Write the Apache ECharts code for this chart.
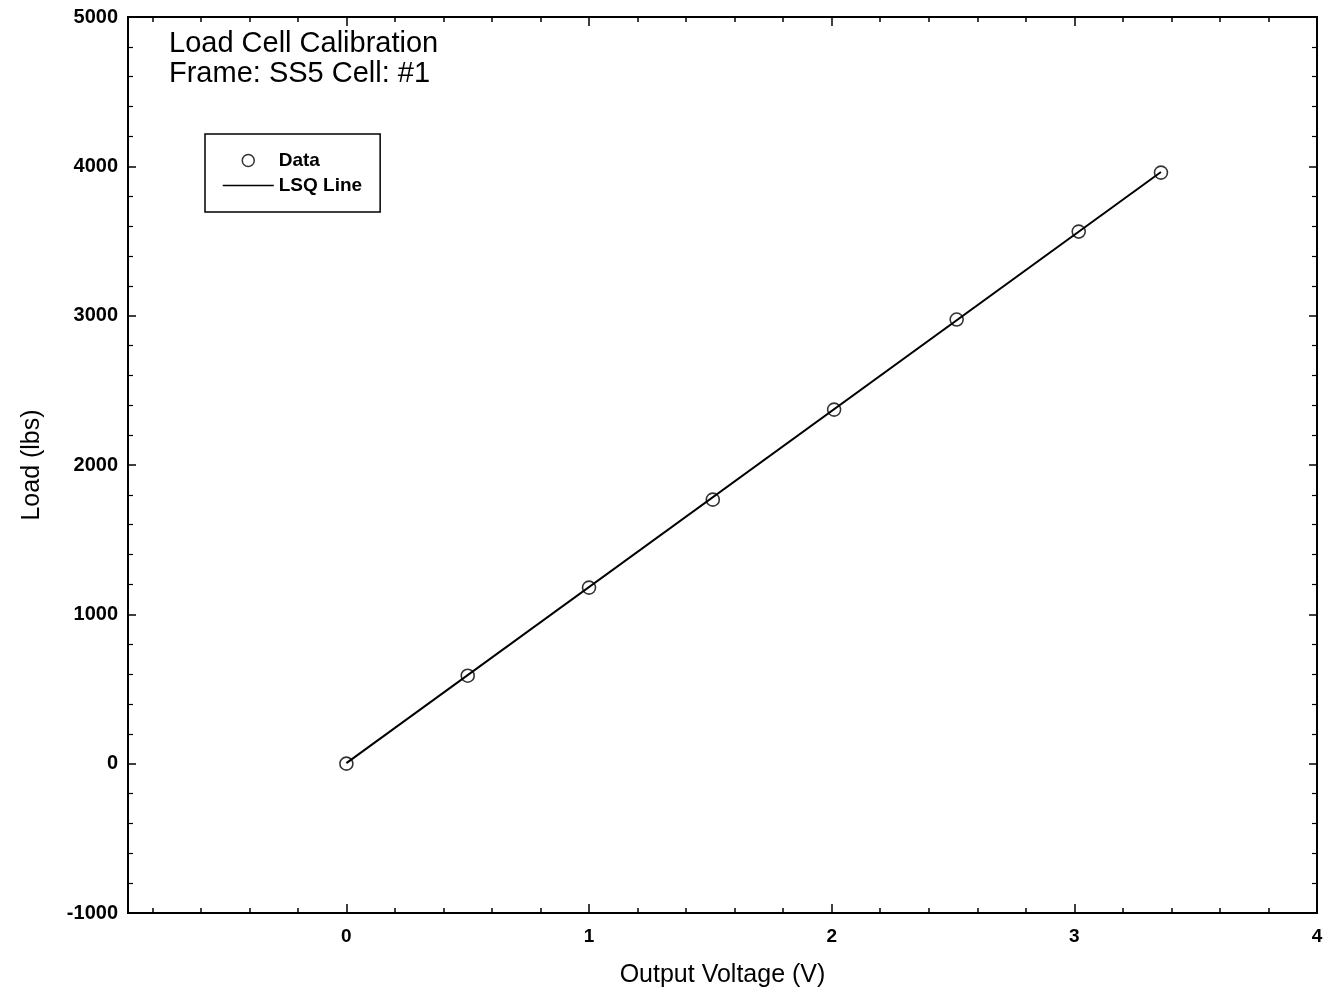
<!DOCTYPE html>
<html>
<head>
<meta charset="utf-8">
<title>Load Cell Calibration</title>
<script src="https://cdn.jsdelivr.net/npm/echarts@6/dist/echarts.min.js"></script>
<style>
  html, body { margin: 0; padding: 0; background: #fff; }
  #chart { width: 1336px; height: 993px; }
</style>
</head>
<body>
<div id="chart"></div>
<script>
// data
const voltage = [0, 0.5, 1.0, 1.51, 2.01, 2.515, 3.018, 3.357];
const load = [0, 589, 1179, 1768, 2371, 2974, 3563, 3958];
// LSQ line end points
const lsqVoltage = [0, 3.357];
const lsqLoad = [4, 3962];

// axis ticks
const xMin = -0.9, xMax = 4;
const xMajorTicks = [0, 1, 2, 3, 4];
const xMinorTicks = [-0.8, -0.6, -0.4, -0.2, 0, 0.2, 0.4, 0.6, 0.8, 1, 1.2, 1.4, 1.6, 1.8, 2,
  2.2, 2.4, 2.6, 2.8, 3, 3.2, 3.4, 3.6, 3.8];
const yMin = -1000, yMax = 5000, yStep = 1000;

const font = '"Liberation Sans", Arial, sans-serif';
const black = '#000';

function xAxisDef(pos, ticks, len, labels, name) {
  return {
    type: 'value', position: pos, min: xMin, max: xMax,
    name: name || '', nameLocation: 'middle', nameGap: 50,
    nameTextStyle: { fontFamily: font, fontSize: 25, color: black },
    axisLine: { onZero: false, lineStyle: { color: black, width: 2 } },
    axisTick: { inside: true, length: len, customValues: ticks, lineStyle: { color: black, width: 1.5 } },
    axisLabel: labels ? {
      customValues: ticks, margin: 14, fontFamily: font, fontSize: 19, fontWeight: 'bold', color: black
    } : { show: false },
    splitLine: { show: false }
  };
}

function yAxisDef(pos, labels, name) {
  return {
    type: 'value', position: pos, min: yMin, max: yMax, interval: yStep,
    name: name || '', nameLocation: 'middle', nameGap: 83,
    nameTextStyle: { fontFamily: font, fontSize: 25, color: black },
    axisLine: { onZero: false, lineStyle: { color: black, width: 2 } },
    axisTick: { inside: true, length: 8, lineStyle: { color: black, width: 1.5 } },
    minorTick: { show: true, splitNumber: 5, length: 5, lineStyle: { color: black, width: 1.2 } },
    axisLabel: labels ? {
      margin: 10, fontFamily: font, fontSize: 20, fontWeight: 'bold', color: black,
      formatter: v => String(v)
    } : { show: false },
    splitLine: { show: false },
    minorSplitLine: { show: false }
  };
}

const chart = echarts.init(document.getElementById('chart'));
chart.setOption({
  backgroundColor: '#fff',
  animation: false,
  grid: { left: 128, right: 19, top: 17, bottom: 80 },
  title: {
    text: 'Load Cell Calibration\nFrame: SS5 Cell: #1',
    left: 164, top: 24,
    textStyle: { fontFamily: font, fontSize: 29, fontWeight: 'normal', color: black, lineHeight: 30 }
  },
  legend: {
    left: 205, top: 134, orient: 'vertical',
    backgroundColor: '#fff', borderColor: black, borderWidth: 1.5,
    padding: [17, 18, 17, 17],
    itemWidth: 51, itemHeight: 12, itemGap: 6,
    textStyle: { fontFamily: font, fontSize: 19, fontWeight: 'bold', color: black },
    data: [
      { name: 'Data', icon: 'circle', itemStyle: { color: '#fff', borderColor: black, borderWidth: 1.5 } },
      { name: 'LSQ Line', itemStyle: { opacity: 0 }, lineStyle: { color: black, width: 1.5 } }
    ]
  },
  xAxis: [
    xAxisDef('bottom', xMajorTicks, 9, true, 'Output Voltage (V)'),
    xAxisDef('bottom', xMinorTicks, 5, false),
    xAxisDef('top', xMajorTicks, 9, false),
    xAxisDef('top', xMinorTicks, 5, false)
  ],
  yAxis: [
    yAxisDef('left', true, 'Load (lbs)'),
    yAxisDef('right', false)
  ],
  series: [
    {
      name: 'LSQ Line', type: 'line', xAxisIndex: 0, yAxisIndex: 0,
      data: lsqVoltage.map((v, i) => [v, lsqLoad[i]]),
      symbol: 'none', lineStyle: { color: black, width: 2 }, itemStyle: { color: black }, z: 2
    },
    {
      name: 'Data', type: 'scatter', xAxisIndex: 0, yAxisIndex: 0,
      data: voltage.map((v, i) => [v, load[i]]),
      symbol: 'circle', symbolSize: 13,
      itemStyle: { color: 'rgba(255,255,255,0)', borderColor: black, borderWidth: 1.6 }, z: 3
    }
  ]
});
</script>
</body>
</html>
